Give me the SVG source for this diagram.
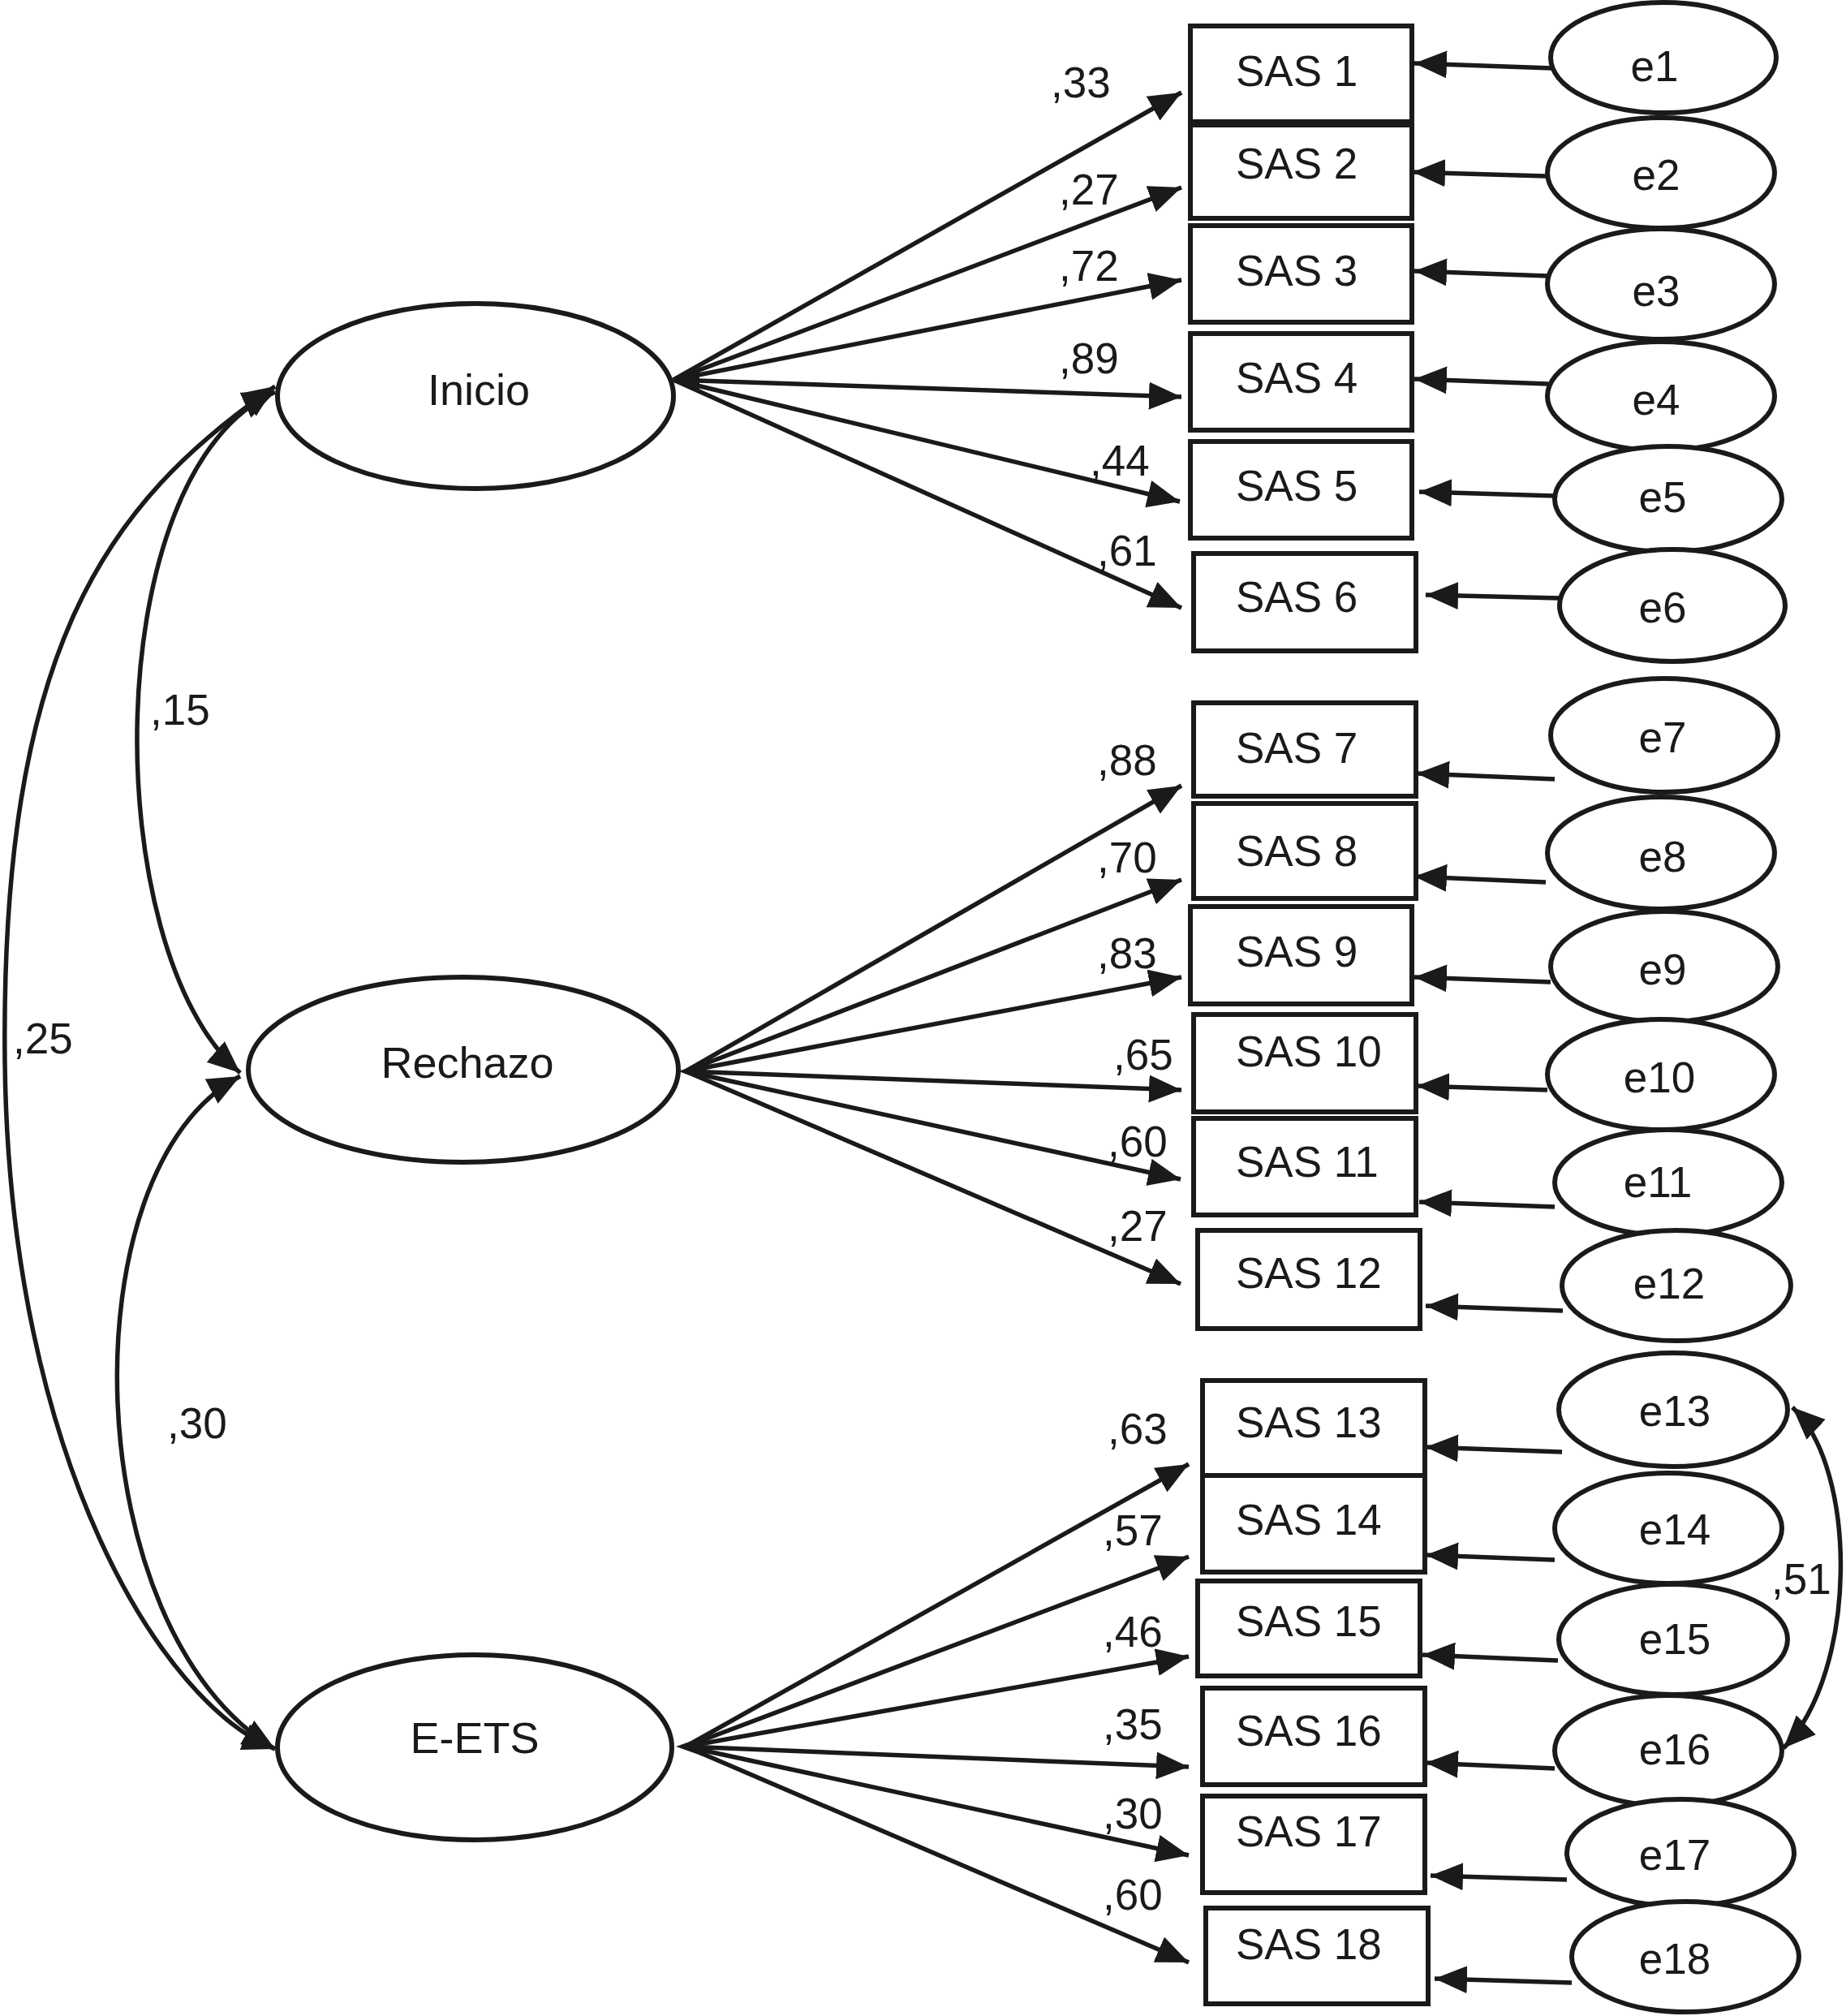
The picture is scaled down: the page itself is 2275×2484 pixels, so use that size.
<svg xmlns="http://www.w3.org/2000/svg" width="2275" height="2484" viewBox="0 0 2275 2484">
<defs>
<style>
text{font-family:"Liberation Sans",Arial,sans-serif;font-size:53px;fill:#1a1a1a}
.box{fill:#fff;stroke:#1a1a1a;stroke-width:6}
.ell{fill:#fff;stroke:#1a1a1a;stroke-width:6}
.ln{fill:none;stroke:#1a1a1a;stroke-width:5.5}
.lat{font-size:54px}
.mid{text-anchor:middle}
</style>
<marker id="ah" markerUnits="userSpaceOnUse" markerWidth="42" markerHeight="36" refX="40" refY="17" orient="auto-start-reverse" viewBox="0 0 42 36">
<path d="M0,0 L40,17 L0,34 z" fill="#1a1a1a"/>
</marker>
</defs>
<rect width="2275" height="2484" fill="#fff"/>

<g id="connectors">
<path class="ln" d="M339,476 C130,620 0,800 6,1310 C12,1800 200,2100 339,2155" marker-start="url(#ah)" marker-end="url(#ah)"/>
<path class="ln" d="M339,483 C120,580 120,1170 296,1322" marker-start="url(#ah)" marker-end="url(#ah)"/>
<path class="ln" d="M296,1326 C80,1440 95,2010 339,2155" marker-start="url(#ah)" marker-end="url(#ah)"/>
<path class="ln" d="M2209,1734 C2290,1810 2290,2060 2198,2154" marker-start="url(#ah)" marker-end="url(#ah)"/>

<line class="ln" x1="830" y1="468" x2="1456" y2="114" marker-end="url(#ah)"/>
<line class="ln" x1="830" y1="468" x2="1456" y2="231" marker-end="url(#ah)"/>
<line class="ln" x1="830" y1="468" x2="1456" y2="345" marker-end="url(#ah)"/>
<line class="ln" x1="830" y1="468" x2="1456" y2="489" marker-end="url(#ah)"/>
<line class="ln" x1="830" y1="468" x2="1454" y2="618" marker-end="url(#ah)"/>
<line class="ln" x1="830" y1="468" x2="1456" y2="749" marker-end="url(#ah)"/>
<polygon points="828,468 862,456 862,480" fill="#1a1a1a"/>

<line class="ln" x1="845" y1="1320" x2="1456" y2="968" marker-end="url(#ah)"/>
<line class="ln" x1="845" y1="1320" x2="1456" y2="1084" marker-end="url(#ah)"/>
<line class="ln" x1="845" y1="1320" x2="1456" y2="1204" marker-end="url(#ah)"/>
<line class="ln" x1="845" y1="1320" x2="1456" y2="1343" marker-end="url(#ah)"/>
<line class="ln" x1="845" y1="1320" x2="1455" y2="1453" marker-end="url(#ah)"/>
<line class="ln" x1="845" y1="1320" x2="1455" y2="1582" marker-end="url(#ah)"/>
<polygon points="836,1320 870,1308 870,1332" fill="#1a1a1a"/>

<line class="ln" x1="845" y1="2152" x2="1465" y2="1804" marker-end="url(#ah)"/>
<line class="ln" x1="845" y1="2152" x2="1465" y2="1918" marker-end="url(#ah)"/>
<line class="ln" x1="845" y1="2152" x2="1465" y2="2041" marker-end="url(#ah)"/>
<line class="ln" x1="845" y1="2152" x2="1465" y2="2177" marker-end="url(#ah)"/>
<line class="ln" x1="845" y1="2152" x2="1465" y2="2286" marker-end="url(#ah)"/>
<line class="ln" x1="845" y1="2152" x2="1465" y2="2418" marker-end="url(#ah)"/>
<polygon points="833,2152 867,2140 867,2164" fill="#1a1a1a"/>

<line class="ln" x1="1912" y1="84" x2="1743" y2="78" marker-end="url(#ah)"/>
<line class="ln" x1="1905" y1="217" x2="1741" y2="212" marker-end="url(#ah)"/>
<line class="ln" x1="1907" y1="340" x2="1743" y2="334" marker-end="url(#ah)"/>
<line class="ln" x1="1908" y1="473" x2="1743" y2="467" marker-end="url(#ah)"/>
<line class="ln" x1="1916" y1="611" x2="1749" y2="606" marker-end="url(#ah)"/>
<line class="ln" x1="1922" y1="737" x2="1757" y2="733" marker-end="url(#ah)"/>
<line class="ln" x1="1916" y1="960" x2="1746" y2="953" marker-end="url(#ah)"/>
<line class="ln" x1="1905" y1="1087" x2="1743" y2="1080" marker-end="url(#ah)"/>
<line class="ln" x1="1911" y1="1210" x2="1743" y2="1204" marker-end="url(#ah)"/>
<line class="ln" x1="1907" y1="1343" x2="1746" y2="1338" marker-end="url(#ah)"/>
<line class="ln" x1="1916" y1="1487" x2="1749" y2="1481" marker-end="url(#ah)"/>
<line class="ln" x1="1926" y1="1615" x2="1757" y2="1609" marker-end="url(#ah)"/>
<line class="ln" x1="1925" y1="1789" x2="1757" y2="1783" marker-end="url(#ah)"/>
<line class="ln" x1="1916" y1="1922" x2="1757" y2="1916" marker-end="url(#ah)"/>
<line class="ln" x1="1920" y1="2046" x2="1753" y2="2039" marker-end="url(#ah)"/>
<line class="ln" x1="1916" y1="2179" x2="1757" y2="2172" marker-end="url(#ah)"/>
<line class="ln" x1="1931" y1="2316" x2="1763" y2="2311" marker-end="url(#ah)"/>
<line class="ln" x1="1937" y1="2443" x2="1768" y2="2438" marker-end="url(#ah)"/>

<text x="16" y="1298">,25</text>
<text x="185" y="893">,15</text>
<text x="206" y="1772">,30</text>
<text x="2183" y="1964">,51</text>
<text x="1295" y="120">,33</text>
<text x="1305" y="252">,27</text>
<text x="1305" y="346">,72</text>
<text x="1305" y="460">,89</text>
<text x="1343" y="586">,44</text>
<text x="1352" y="697">,61</text>
<text x="1352" y="955">,88</text>
<text x="1352" y="1075">,70</text>
<text x="1352" y="1193">,83</text>
<text x="1372" y="1318">,65</text>
<text x="1365" y="1425">,60</text>
<text x="1365" y="1529">,27</text>
<text x="1365" y="1779">,63</text>
<text x="1359" y="1904">,57</text>
<text x="1359" y="2029">,46</text>
<text x="1359" y="2143">,35</text>
<text x="1359" y="2253">,30</text>
<text x="1359" y="2353">,60</text>
</g>

<g id="Inicio"><ellipse class="ell" cx="586" cy="488" rx="244" ry="114"/><text class="lat mid" x="590" y="499">Inicio</text></g>
<g id="Rechazo"><ellipse class="ell" cx="571" cy="1318" rx="265" ry="114"/><text class="lat mid" x="576" y="1328">Rechazo</text></g>
<g id="E-ETS"><ellipse class="ell" cx="585" cy="2153" rx="243" ry="114"/><text class="lat mid" x="585" y="2160">E-ETS</text></g>

<g id="SAS1"><rect class="box" x="1467" y="32" width="273" height="118"/><text x="1523" y="106">SAS 1</text></g>
<g id="SAS2"><rect class="box" x="1467" y="154" width="273" height="115"/><text x="1523" y="220">SAS 2</text></g>
<g id="SAS3"><rect class="box" x="1467" y="278" width="273" height="119"/><text x="1523" y="352">SAS 3</text></g>
<g id="SAS4"><rect class="box" x="1467" y="411" width="273" height="119"/><text x="1523" y="484">SAS 4</text></g>
<g id="SAS5"><rect class="box" x="1467" y="544" width="273" height="119"/><text x="1523" y="617">SAS 5</text></g>
<g id="SAS6"><rect class="box" x="1471" y="682" width="274" height="120"/><text x="1523" y="754">SAS 6</text></g>
<g id="SAS7"><rect class="box" x="1471" y="866" width="274" height="115"/><text x="1523" y="940">SAS 7</text></g>
<g id="SAS8"><rect class="box" x="1471" y="990" width="274" height="117"/><text x="1523" y="1067">SAS 8</text></g>
<g id="SAS9"><rect class="box" x="1467" y="1117" width="273" height="120"/><text x="1523" y="1191">SAS 9</text></g>
<g id="SAS10"><rect class="box" x="1471" y="1250" width="274" height="120"/><text x="1523" y="1314">SAS 10</text></g>
<g id="SAS11"><rect class="box" x="1471" y="1378" width="274" height="119"/><text x="1523" y="1450">SAS 11</text></g>
<g id="SAS12"><rect class="box" x="1476" y="1516" width="274" height="121"/><text x="1523" y="1587">SAS 12</text></g>
<g id="SAS13"><rect class="box" x="1482" y="1701" width="274" height="117"/><text x="1523" y="1771">SAS 13</text></g>
<g id="SAS14"><rect class="box" x="1482" y="1818" width="274" height="119"/><text x="1523" y="1891">SAS 14</text></g>
<g id="SAS15"><rect class="box" x="1476" y="1948" width="274" height="117"/><text x="1523" y="2016">SAS 15</text></g>
<g id="SAS16"><rect class="box" x="1482" y="2080" width="274" height="119"/><text x="1523" y="2151">SAS 16</text></g>
<g id="SAS17"><rect class="box" x="1482" y="2213" width="274" height="119"/><text x="1523" y="2275">SAS 17</text></g>
<g id="SAS18"><rect class="box" x="1486" y="2351" width="274" height="118"/><text x="1523" y="2414">SAS 18</text></g>

<g id="e1"><ellipse class="ell" cx="2050" cy="71" rx="139" ry="68"/><text class="mid" x="2039" y="100">e1</text></g>
<g id="e2"><ellipse class="ell" cx="2047" cy="213" rx="140" ry="68"/><text class="mid" x="2041" y="234">e2</text></g>
<g id="e3"><ellipse class="ell" cx="2047" cy="350" rx="140" ry="68"/><text class="mid" x="2041" y="377">e3</text></g>
<g id="e4"><ellipse class="ell" cx="2047" cy="488" rx="140" ry="67"/><text class="mid" x="2041" y="511">e4</text></g>
<g id="e5"><ellipse class="ell" cx="2056" cy="615" rx="140" ry="65"/><text class="mid" x="2049" y="631">e5</text></g>
<g id="e6"><ellipse class="ell" cx="2061" cy="746" rx="139" ry="69"/><text class="mid" x="2049" y="767">e6</text></g>
<g id="e7"><ellipse class="ell" cx="2051" cy="906" rx="140" ry="70"/><text class="mid" x="2049" y="927">e7</text></g>
<g id="e8"><ellipse class="ell" cx="2047" cy="1051" rx="140" ry="69"/><text class="mid" x="2049" y="1074">e8</text></g>
<g id="e9"><ellipse class="ell" cx="2051" cy="1191" rx="140" ry="68"/><text class="mid" x="2049" y="1213">e9</text></g>
<g id="e10"><ellipse class="ell" cx="2047" cy="1324" rx="140" ry="68"/><text class="mid" x="2045" y="1346">e10</text></g>
<g id="e11"><ellipse class="ell" cx="2056" cy="1457" rx="140" ry="65"/><text class="mid" x="2043" y="1475">e11</text></g>
<g id="e12"><ellipse class="ell" cx="2066" cy="1584" rx="141" ry="68"/><text class="mid" x="2057" y="1600">e12</text></g>
<g id="e13"><ellipse class="ell" cx="2062" cy="1737" rx="141" ry="70"/><text class="mid" x="2064" y="1757">e13</text></g>
<g id="e14"><ellipse class="ell" cx="2056" cy="1883" rx="140" ry="68"/><text class="mid" x="2064" y="1903">e14</text></g>
<g id="e15"><ellipse class="ell" cx="2062" cy="2020" rx="141" ry="68"/><text class="mid" x="2064" y="2038">e15</text></g>
<g id="e16"><ellipse class="ell" cx="2056" cy="2157" rx="140" ry="68"/><text class="mid" x="2064" y="2174">e16</text></g>
<g id="e17"><ellipse class="ell" cx="2071" cy="2283" rx="140" ry="66"/><text class="mid" x="2064" y="2304">e17</text></g>
<g id="e18"><ellipse class="ell" cx="2077" cy="2411" rx="140" ry="68"/><text class="mid" x="2064" y="2432">e18</text></g>
</svg>
